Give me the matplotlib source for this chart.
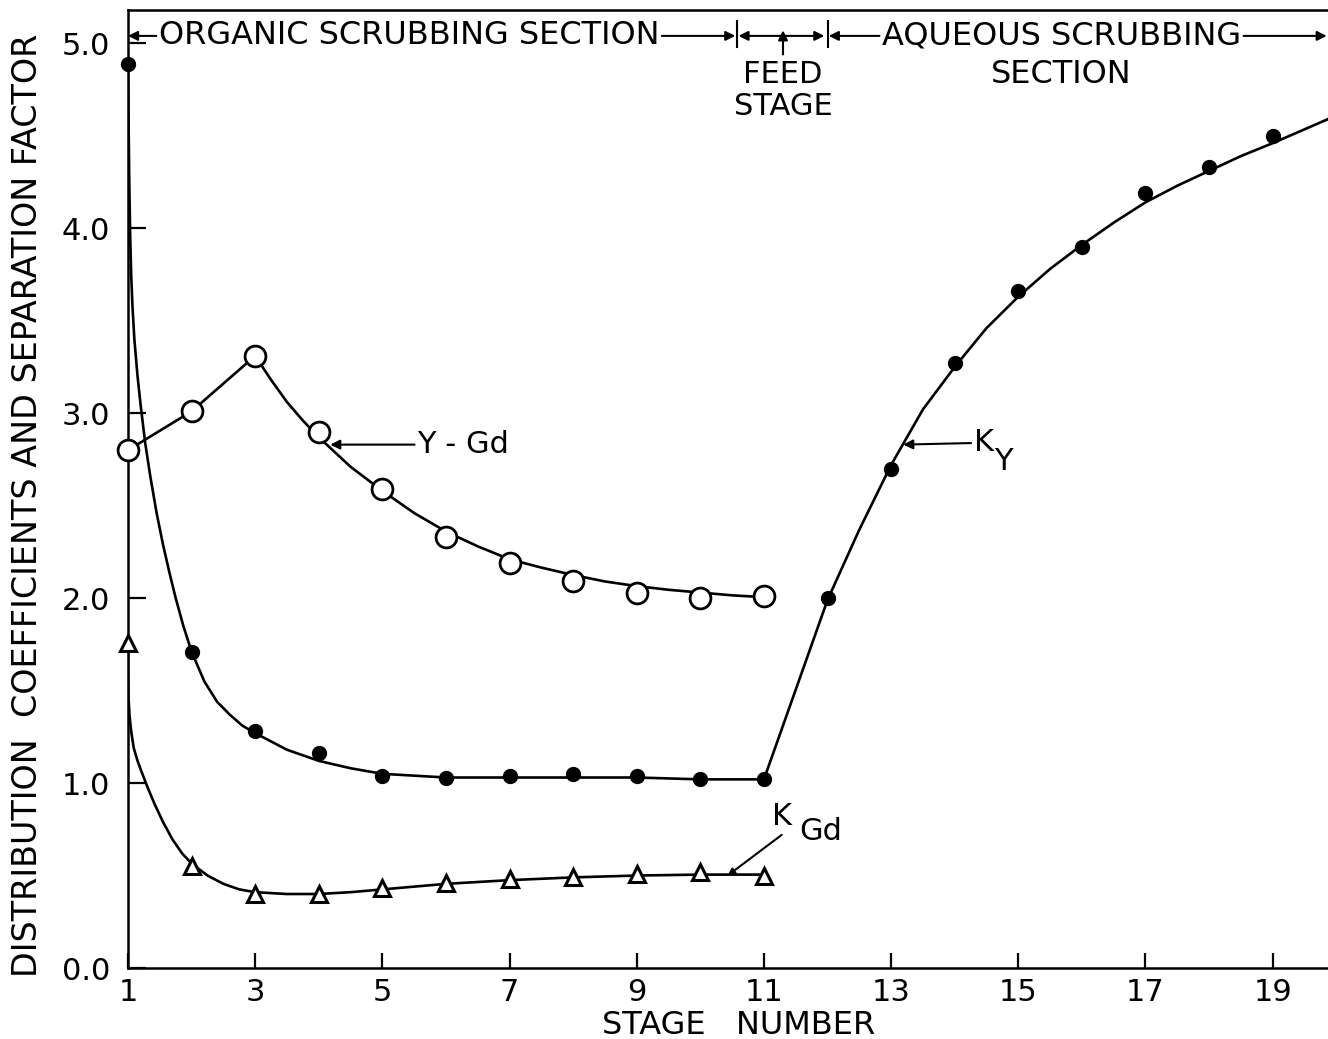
"""
Distribution coefficients / separation factor vs. stage number
(organic and aqueous scrubbing sections)
"""

import matplotlib
matplotlib.use("Agg")
import matplotlib.pyplot as plt

plt.rcParams["font.family"] = ["DejaVu Sans"]
plt.rcParams["mathtext.default"] = "regular"

# ---- measured points -------------------------------------------------------
STAGES_ALL = list(range(1, 20))
K_Y = [4.89, 1.71, 1.28, 1.16, 1.04, 1.03, 1.04, 1.05, 1.04, 1.02, 1.02,
       2.00, 2.70, 3.27, 3.66, 3.90, 4.19, 4.33, 4.50]

STAGES_ORG = list(range(1, 12))
Y_GD = [2.80, 3.01, 3.31, 2.90, 2.59, 2.33, 2.19, 2.09, 2.03, 2.00, 2.01]
K_GD = [1.76, 0.55, 0.40, 0.40, 0.43, 0.46, 0.48, 0.49, 0.51, 0.52, 0.50]

# ---- hand drawn curves -----------------------------------------------------
KY_LEFT_X = [1.00, 1.01, 1.02, 1.035, 1.05, 1.07, 1.10, 1.15, 1.20, 1.27, 1.35,
             1.45, 1.55, 1.65, 1.75, 1.87, 2.0, 2.2, 2.4, 2.6, 2.8, 3.0, 3.5,
             4.0, 4.5, 5.0, 5.5, 6.0, 7.0, 8.0, 9.0, 10.0, 11.0]
KY_LEFT_Y = [4.89, 4.55, 4.25, 3.95, 3.75, 3.58, 3.40, 3.20, 3.04, 2.84, 2.66,
             2.46, 2.29, 2.14, 2.00, 1.85, 1.71, 1.55, 1.44, 1.37, 1.31, 1.27, 1.18,
             1.12, 1.08, 1.05, 1.04, 1.03, 1.03, 1.03, 1.03, 1.02, 1.02]

KY_RIGHT_X = [11.0, 12.0, 12.5, 13.0, 13.5, 14.0, 14.5, 15.0, 15.5, 16.0, 16.5,
              17.0, 17.5, 18.0, 18.5, 19.0, 19.87]
KY_RIGHT_Y = [1.02, 1.99, 2.37, 2.72, 3.02, 3.25, 3.46, 3.63, 3.78, 3.91, 4.03,
              4.14, 4.23, 4.31, 4.39, 4.46, 4.59]

YGD_X = [1.0, 2.0, 3.0, 3.25, 3.5, 3.75, 4.0, 4.25, 4.5, 5.0, 5.5, 6.0, 6.5,
         7.0, 7.5, 8.0, 8.5, 9.0, 9.5, 10.0, 10.5, 11.0]
YGD_Y = [2.80, 3.01, 3.31, 3.18, 3.06, 2.96, 2.87, 2.79, 2.71, 2.58, 2.46, 2.36,
         2.28, 2.21, 2.165, 2.125, 2.09, 2.065, 2.045, 2.03, 2.015, 2.005]

KGD_X = [1.0, 1.003, 1.01, 1.025, 1.05, 1.09, 1.15, 1.22, 1.31, 1.42, 1.55, 1.7,
         1.85, 2.0, 2.25, 2.5, 2.75, 3.0, 3.5, 4.0, 4.5, 5.0, 5.5, 6.0, 7.0,
         8.0, 9.0, 10.0, 11.0]
KGD_Y = [1.72, 1.55, 1.45, 1.36, 1.28, 1.19, 1.12, 1.055, 0.975, 0.885, 0.79,
         0.695, 0.62, 0.565, 0.50, 0.455, 0.425, 0.41, 0.40, 0.40, 0.41, 0.425,
         0.44, 0.455, 0.475, 0.49, 0.50, 0.505, 0.505]

X_TICKS = [1, 3, 5, 7, 9, 11, 13, 15, 17, 19]
Y_TICKS = [0, 1, 2, 3, 4, 5]
Y_TICK_LABELS = ["0.0", "1.0", "2.0", "3.0", "4.0", "5.0"]

FS = 22
LW = 1.9

fig = plt.figure(figsize=(13.28, 10.39), dpi=100)
fig.patch.set_facecolor("white")
ax = fig.add_axes([128 / 1328, 71 / 1039, 1 - 128 / 1328, 958 / 1039])

# curves
ax.plot(KY_LEFT_X, KY_LEFT_Y, color="black", lw=LW, zorder=2)
ax.plot(KY_RIGHT_X, KY_RIGHT_Y, color="black", lw=LW, zorder=2)
ax.plot(YGD_X, YGD_Y, color="black", lw=LW, zorder=2)
ax.plot(KGD_X, KGD_Y, color="black", lw=LW, zorder=2)

# points
ax.plot(STAGES_ALL, K_Y, "o", color="black", ms=10, zorder=4, clip_on=False)
ax.plot(STAGES_ORG, Y_GD, "o", mfc="white", mec="black", mew=2, ms=15,
        zorder=4, clip_on=False)
ax.plot(STAGES_ORG, K_GD, "^", mfc="white", mec="black", mew=2.2, ms=12,
        zorder=4, clip_on=False)

ax.set_xlim(1, 19.87)
ax.set_ylim(0, 5.18)
ax.set_xticks(X_TICKS)
ax.set_yticks(Y_TICKS)
ax.set_yticklabels(Y_TICK_LABELS)
ax.tick_params(axis="x", direction="in", length=11, width=1.6, labelsize=FS, pad=7)
ax.tick_params(axis="y", direction="in", length=13, width=1.6, labelsize=FS, pad=13)

ax.spines["right"].set_visible(False)
for s in ["left", "bottom", "top"]:
    ax.spines[s].set_linewidth(1.8)

ax.set_xlabel("STAGE   NUMBER", fontsize=FS + 1)
ax.xaxis.set_label_coords(0.509, -0.044)
ax.set_ylabel("DISTRIBUTION  COEFFICIENTS AND SEPARATION FACTOR", fontsize=FS + 2)
ax.yaxis.set_label_coords(-0.07, 0.483)

# ---- curve labels ----------------------------------------------------------
arrow_kw = dict(arrowstyle="-|>", color="black", lw=1.5, mutation_scale=14,
                shrinkA=0, shrinkB=0)
ax.annotate("Y - Gd", xy=(4.18, 2.83), xytext=(5.55, 2.83), fontsize=FS,
            va="center", ha="left", arrowprops=arrow_kw)
ax.annotate("K", xy=(13.19, 2.83), xytext=(14.3, 2.84), fontsize=FS,
            va="center", ha="left", arrowprops=arrow_kw)
ax.text(14.62, 2.74, "Y", fontsize=FS, va="center", ha="left")
ax.annotate("", xy=(10.43, 0.50), xytext=(11.28, 0.72),
            arrowprops=dict(arrowstyle="-|>", color="black", lw=1.5,
                            mutation_scale=10, shrinkA=0, shrinkB=0))
ax.text(11.28, 0.82, "K", fontsize=FS, va="center", ha="center")
ax.text(11.55, 0.74, "Gd", fontsize=FS, va="center", ha="left")

# ---- section header --------------------------------------------------------
hy = 5.04
t_org = ax.text(5.42, hy, "ORGANIC SCRUBBING SECTION", fontsize=FS + 1,
                ha="center", va="center")
t_aq = ax.text(15.68, hy, "AQUEOUS SCRUBBING", fontsize=FS + 1, ha="center",
               va="center")
ax.text(11.3, 4.83, "FEED", fontsize=FS, ha="center", va="center")
ax.text(11.3, 4.66, "STAGE", fontsize=FS, ha="center", va="center")
ax.text(15.68, 4.83, "SECTION", fontsize=FS + 1, ha="center", va="center")

# dashes run right up to the header words
fig.canvas.draw()
rend = fig.canvas.get_renderer()
inv = ax.transData.inverted()
org_bb = t_org.get_window_extent(rend).transformed(inv)
aq_bb = t_aq.get_window_extent(rend).transformed(inv)
gap = 0.04

ax.annotate("", xy=(1.0, hy), xytext=(org_bb.x0 - gap, hy), arrowprops=arrow_kw,
            annotation_clip=False)
ax.annotate("", xy=(10.55, hy), xytext=(org_bb.x1 + gap, hy), arrowprops=arrow_kw)
ax.annotate("", xy=(10.6, hy), xytext=(11.3, hy), arrowprops=arrow_kw)
ax.annotate("", xy=(11.95, hy), xytext=(11.3, hy), arrowprops=arrow_kw)
ax.annotate("", xy=(12.02, hy), xytext=(aq_bb.x0 - gap, hy), arrowprops=arrow_kw)
ax.annotate("", xy=(11.3, 5.07), xytext=(11.3, 4.94), arrowprops=arrow_kw)
for bx in [10.58, 12.0]:
    ax.plot([bx, bx], [4.98, 5.12], color="black", lw=1.5)
ax.annotate("", xy=(19.85, hy), xytext=(aq_bb.x1 + gap, hy), arrowprops=arrow_kw,
            annotation_clip=False)

fig.savefig("out.png", dpi=100, facecolor="white")
